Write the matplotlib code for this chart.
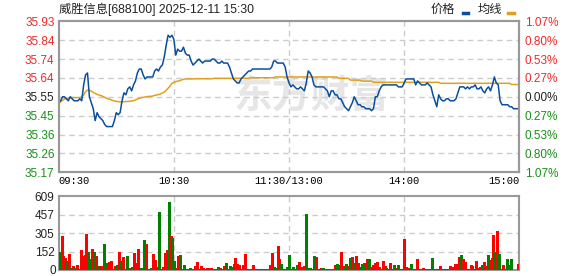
import numpy as np
import matplotlib.pyplot as plt
from matplotlib.lines import Line2D
from matplotlib.transforms import offset_copy

plt.rcParams['font.family'] = ['Liberation Sans', 'Noto Sans CJK SC', 'DejaVu Sans']

title = '威胜信息[688100] 2025-12-11 15:30'
prev_close = 35.55
price_labels = ['35.93', '35.84', '35.74', '35.64', '35.55', '35.45', '35.36', '35.26', '35.17']
pct_labels = ['1.07%', '0.80%', '0.53%', '0.27%', '0.00%', '0.27%', '0.53%', '0.80%', '1.07%']
time_labels = ['09:30', '10:30', '11:30/13:00', '14:00', '15:00']
time_pos = [0, 60, 120, 180, 240]
vol_ticks = [0, 152, 305, 457, 609]

# minute prices 09:30 .. 15:00 (241 points)
price = [
    35.52, 35.53, 35.55, 35.55, 35.54, 35.53, 35.55, 35.54, 35.53, 35.53,
    35.53, 35.54, 35.53, 35.61, 35.66, 35.67, 35.55, 35.52, 35.49, 35.43,
    35.47, 35.45, 35.44, 35.43, 35.41, 35.40, 35.40, 35.40, 35.40, 35.43,
    35.47, 35.46, 35.47, 35.53, 35.57, 35.56, 35.59, 35.60, 35.58, 35.61,
    35.63, 35.67, 35.69, 35.69, 35.66, 35.64, 35.65, 35.65, 35.65, 35.65,
    35.68, 35.69, 35.68, 35.70, 35.71, 35.75, 35.81, 35.86, 35.85, 35.86,
    35.84, 35.76, 35.79, 35.78, 35.78, 35.80, 35.77, 35.76, 35.76, 35.73,
    35.71, 35.72, 35.73, 35.74, 35.73, 35.72, 35.73, 35.73, 35.73, 35.73,
    35.74, 35.74, 35.73, 35.72, 35.72, 35.73, 35.72, 35.72, 35.72, 35.70,
    35.67, 35.64, 35.63, 35.62, 35.62, 35.64, 35.65, 35.66, 35.67, 35.68,
    35.68, 35.69, 35.69, 35.69, 35.69, 35.69, 35.69, 35.69, 35.69, 35.69,
    35.69, 35.70, 35.73, 35.73, 35.72, 35.72, 35.72, 35.72, 35.70, 35.65,
    35.62, 35.60, 35.61, 35.60, 35.59, 35.59, 35.60, 35.59, 35.58, 35.62,
    35.68, 35.67, 35.65, 35.61, 35.60, 35.60, 35.60, 35.60, 35.60, 35.59,
    35.58, 35.55, 35.58, 35.58, 35.56, 35.56, 35.54, 35.54, 35.52, 35.50,
    35.49, 35.48, 35.50, 35.52, 35.55, 35.53, 35.51, 35.51, 35.50, 35.50,
    35.49, 35.49, 35.49, 35.48, 35.49, 35.55, 35.55, 35.58, 35.60, 35.61,
    35.61, 35.61, 35.61, 35.61, 35.61, 35.61, 35.61, 35.60, 35.60, 35.60,
    35.62, 35.64, 35.64, 35.64, 35.64, 35.64, 35.61, 35.63, 35.62, 35.61,
    35.61, 35.61, 35.62, 35.61, 35.60, 35.56, 35.53, 35.50, 35.56, 35.54,
    35.53, 35.53, 35.54, 35.54, 35.53, 35.53, 35.53, 35.54, 35.57, 35.60,
    35.60, 35.60, 35.59, 35.60, 35.59, 35.60, 35.60, 35.61, 35.59, 35.59,
    35.60, 35.58, 35.57, 35.59, 35.60, 35.58, 35.61, 35.65, 35.62, 35.61,
    35.53, 35.51, 35.51, 35.51, 35.51, 35.50, 35.50, 35.49, 35.49, 35.49,
    35.49,
]

# average price line
avg = [
    35.517, 35.525, 35.532, 35.539, 35.542, 35.544, 35.546, 35.546, 35.546, 35.546,
    35.546, 35.546, 35.549, 35.559, 35.576, 35.584, 35.583, 35.578, 35.572, 35.567,
    35.562, 35.559, 35.556, 35.552, 35.547, 35.542, 35.539, 35.536, 35.532, 35.529,
    35.527, 35.526, 35.524, 35.524, 35.526, 35.526, 35.527, 35.527, 35.529, 35.531,
    35.534, 35.539, 35.542, 35.546, 35.547, 35.549, 35.551, 35.552, 35.552, 35.554,
    35.557, 35.559, 35.561, 35.564, 35.569, 35.574, 35.583, 35.593, 35.604, 35.618,
    35.623, 35.626, 35.629, 35.631, 35.635, 35.638, 35.640, 35.640, 35.640, 35.640,
    35.640, 35.641, 35.641, 35.641, 35.641, 35.641, 35.641, 35.641, 35.641, 35.641,
    35.641, 35.643, 35.643, 35.643, 35.643, 35.643, 35.643, 35.643, 35.643, 35.643,
    35.643, 35.643, 35.643, 35.643, 35.643, 35.643, 35.643, 35.643, 35.643, 35.643,
    35.646, 35.646, 35.646, 35.646, 35.646, 35.646, 35.646, 35.646, 35.646, 35.646,
    35.646, 35.646, 35.646, 35.650, 35.650, 35.650, 35.650, 35.650, 35.650, 35.650,
    35.650, 35.650, 35.650, 35.650, 35.650, 35.650, 35.650, 35.650, 35.650, 35.650,
    35.650, 35.650, 35.650, 35.650, 35.650, 35.650, 35.650, 35.650, 35.650, 35.650,
    35.650, 35.650, 35.650, 35.650, 35.650, 35.650, 35.643, 35.643, 35.643, 35.643,
    35.643, 35.643, 35.634, 35.634, 35.634, 35.634, 35.634, 35.634, 35.629, 35.629,
    35.629, 35.629, 35.629, 35.629, 35.623, 35.623, 35.623, 35.623, 35.623, 35.623,
    35.623, 35.623, 35.623, 35.623, 35.623, 35.623, 35.623, 35.623, 35.623, 35.623,
    35.623, 35.623, 35.623, 35.623, 35.623, 35.623, 35.623, 35.623, 35.623, 35.623,
    35.623, 35.623, 35.623, 35.623, 35.623, 35.623, 35.623, 35.623, 35.623, 35.618,
    35.618, 35.618, 35.618, 35.618, 35.618, 35.618, 35.618, 35.618, 35.618, 35.618,
    35.618, 35.618, 35.618, 35.618, 35.618, 35.618, 35.618, 35.618, 35.618, 35.618,
    35.618, 35.618, 35.618, 35.618, 35.618, 35.618, 35.618, 35.618, 35.618, 35.618,
    35.618, 35.618, 35.618, 35.618, 35.618, 35.618, 35.612, 35.612, 35.612, 35.612,
    35.612,
]

volume = [
    150, 281, 117, 101, 76, 134, 19, 35, 19, 44,
    8, 167, 117, 126, 298, 150, 93, 175, 150, 117,
    33, 35, 35, 216, 60, 19, 68, 76, 8, 35,
    44, 150, 76, 109, 8, 117, 8, 19, 27, 142,
    60, 175, 19, 19, 248, 216, 8, 8, 19, 134,
    85, 27, 478, 8, 27, 142, 167, 560, 281, 265,
    76, 19, 117, 126, 8, 44, 8, 8, 19, 8,
    8, 35, 68, 8, 35, 19, 8, 19, 19, 19,
    8, 8, 8, 27, 19, 8, 35, 60, 8, 35,
    27, 52, 101, 52, 44, 8, 44, 134, 8, 8,
    8, 44, 8, 8, 8, 8, 8, 8, 8, 8,
    44, 142, 27, 19, 199, 93, 52, 8, 8, 27,
    126, 8, 27, 8, 44, 68, 8, 27, 35, 461,
    19, 19, 8, 117, 109, 8, 8, 19, 19, 8,
    8, 8, 8, 8, 44, 52, 44, 150, 35, 27,
    52, 35, 101, 109, 60, 117, 60, 27, 52, 60,
    44, 93, 93, 27, 44, 60, 68, 27, 8, 76,
    35, 19, 8, 60, 8, 44, 19, 44, 8, 8,
    257, 27, 8, 19, 52, 8, 8, 93, 8, 8,
    19, 8, 8, 8, 8, 101, 8, 8, 8, 35,
    8, 8, 8, 8, 35, 8, 27, 52, 52, 109,
    126, 93, 68, 8, 8, 44, 35, 8, 76, 19,
    27, 44, 68, 35, 126, 85, 101, 289, 150, 322,
    134, 8, 44, 8, 93, 44, 93, 0, 0, 0,
    52,
]

# r = up bar, g = down bar
vol_dir = (
    "grrrgrgrgr" "grrrrggrgr" "grrggrrrrr" "grgrggrrgr" "rrgggrrrgr"
    "rrgrrrrgrg" "grrgrgrrgr" "grrgrrrrrr" "ggrgrgrggg" "ggrrrrrrgr"
    "rrrgggrrrr" "rrggrrgggg" "grgrgrrrrg" "ggrgrrgrgg" "rrggrggrrg"
    "grgrgrrggr" "grgrrrrrrr" "rgrrrgrgrr" "rrrrggrrrg" "rrrrgggrgr"
    "ggrgrrrrrr" "grrggrrgrr" "rgrrgrrrgr" "grrrgggrrr"
    "r"
)

red = '#ff0000'
green = '#008000'
up_txt = '#f02828'
dn_txt = '#189018'
grid_c = '#cccccc'
frame_c = '#999999'

span = 0.0107 * prev_close
lo, hi = prev_close - span, prev_close + span
levels = np.linspace(hi, lo, len(price_labels))

fig = plt.figure(figsize=(5.78, 2.76), dpi=100)
W, H = 578, 276
ax = fig.add_axes([58.7 / W, 1 - 172.3 / H, 460.6 / W, 151 / H])
vax = fig.add_axes([58.7 / W, 1 - 270.3 / H, 460.6 / W, 74.3 / H])

n = len(price)
t = np.arange(n)

# watermark
ax.text(0.548, 0.5, '东方财富', transform=ax.transAxes, ha='center', va='center',
        fontsize=28, fontweight='bold', color='#e6e6e6', family=['Noto Sans CJK SC'],
        zorder=0)

for lv in levels[1:-1]:
    ax.axhline(lv, color=grid_c, lw=1, ls=(0, (4, 3)), zorder=1)
for tp in time_pos[1:-1]:
    ax.axvline(tp, color=grid_c, lw=1, ls=(0, (4, 3)), zorder=1)

ax.plot(t, avg, color='#e0a020', lw=1.1, zorder=3)
ax.plot(t, price, color='#0a4ea0', lw=1.1, zorder=4)
ax.set_xlim(0, n - 1)
ax.set_ylim(lo, hi)

ax.set_yticks(levels)
ax.set_yticklabels(price_labels, fontsize=8.5)
for lab, lv in zip(ax.get_yticklabels(), levels):
    if abs(lv - prev_close) < 1e-6:
        lab.set_color('#222222')
    elif lv > prev_close:
        lab.set_color(up_txt)
    else:
        lab.set_color(dn_txt)

ax.set_xticks(time_pos)
ax.set_xticklabels(time_labels, fontsize=7.6, family=['Liberation Mono', 'DejaVu Sans Mono'])
xl = ax.get_xticklabels()
xl[0].set_ha('left')
xl[-1].set_ha('right')
ax.tick_params(length=0, pad=3)

rax = ax.twinx()
rax.set_ylim(lo, hi)
rax.set_yticks(levels)
rax.set_yticklabels(pct_labels, fontsize=8.5)
for lab, lv in zip(rax.get_yticklabels(), levels):
    if abs(lv - prev_close) < 1e-6:
        lab.set_color('#222222')
    elif lv > prev_close:
        lab.set_color(up_txt)
    else:
        lab.set_color(dn_txt)
rax.tick_params(length=0, pad=4)

for a in (ax, rax, vax):
    for s in a.spines.values():
        s.set_color(frame_c)
        s.set_linewidth(1.5)

# volume
nb = len(volume)
bx = (np.arange(nb) + 0.5) * (n - 1) / nb
cols = [red if c == 'r' else green for c in vol_dir]
for v in vol_ticks[1:-1]:
    vax.axhline(v, color=grid_c, lw=1, ls=(0, (4, 3)), zorder=1)
for tp in time_pos[1:-1]:
    vax.axvline(tp, color=grid_c, lw=1, ls=(0, (4, 3)), zorder=1)
vax.vlines(bx, 0, volume, colors=cols, lw=0.8, antialiased=False, zorder=3)
vax.set_xlim(0, n - 1)
vax.set_ylim(0, vol_ticks[-1])
vax.set_yticks(vol_ticks)
vax.set_yticklabels([''] + [str(v) for v in vol_ticks[1:]], fontsize=8.5, color='#222222')
vax.set_xticks([])
vax.tick_params(length=0, pad=3)
zero_tr = offset_copy(vax.get_yaxis_transform(), fig=fig, x=-3, y=-3.5, units='dots')
vax.text(0, vol_ticks[0], str(vol_ticks[0]), transform=zero_tr, ha='right', va='baseline',
         fontsize=8.5, color='#222222')

# header
fig.text(59 / W, 1 - 9.5 / H, title, fontsize=8.8, va='center', ha='left', color='#222222')
fig.text(431 / W, 1 - 9.5 / H, '价格', fontsize=8.8, va='center', ha='left', color='#222222')
fig.text(478 / W, 1 - 9.5 / H, '均线', fontsize=8.8, va='center', ha='left', color='#222222')
fig.add_artist(Line2D([463 / W, 468 / W], [1 - 12.5 / H] * 2, color='#0a4ea0', lw=2.5,
                      transform=fig.transFigure))
fig.add_artist(Line2D([508 / W, 514 / W], [1 - 12.5 / H] * 2, color='#e0a020', lw=2.5,
                      transform=fig.transFigure))

fig.savefig('out.png', dpi=100)
